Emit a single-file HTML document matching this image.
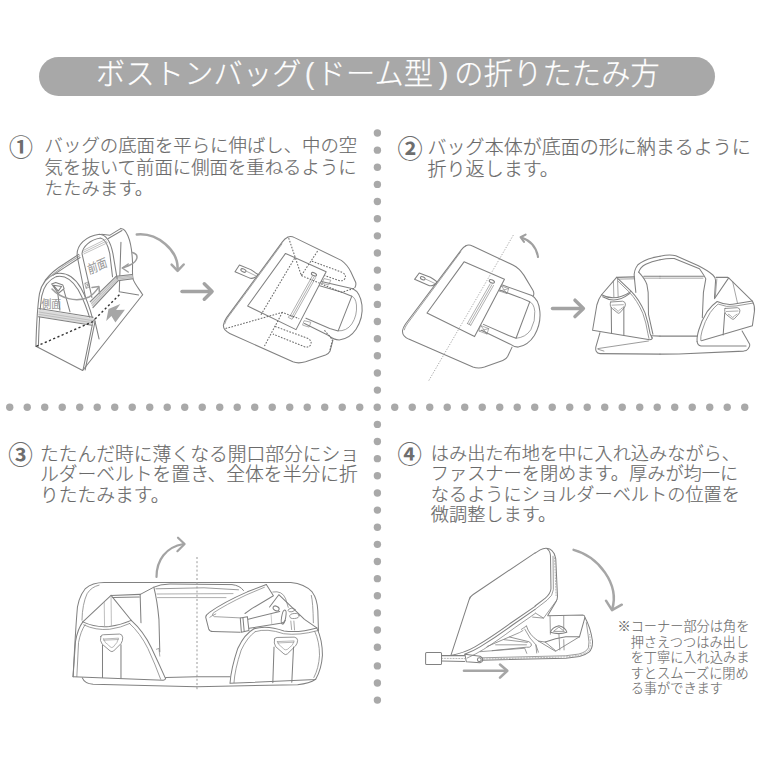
<!DOCTYPE html>
<html lang="ja">
<head>
<meta charset="utf-8">
<title>ボストンバッグ(ドーム型)の折りたたみ方</title>
<style>
html,body{margin:0;padding:0;background:#fff;}
body{width:760px;height:760px;position:relative;overflow:hidden;font-family:"Liberation Sans","Noto Sans CJK JP",sans-serif;}
#bar{position:absolute;left:39px;top:56.6px;width:676px;height:39.8px;border-radius:19.9px;background:#a8a8a8;}
#title{position:absolute;left:96px;top:60.1px;height:29.2px;line-height:29.2px;color:#fff;font-size:29.2px;font-weight:300;letter-spacing:0.2px;white-space:nowrap;-webkit-text-stroke:0.25px #fff;}
#title i{font-style:normal;display:inline-block;width:14.8px;letter-spacing:0;text-indent:3px;opacity:.92;-webkit-text-stroke:0;}
.t{position:absolute;color:#6a6a6a;font-weight:300;white-space:nowrap;-webkit-text-stroke:0.18px #6a6a6a;}
svg{position:absolute;left:0;top:0;}
.n{position:absolute;color:#6e6e6e;font-weight:700;white-space:nowrap;}
</style>
</head>
<body>
<svg id="art" width="760" height="760" viewBox="0 0 760 760">
<g id="dots" fill="#a9a9a9"><circle cx="9.75" cy="407.20" r="3.7"/><circle cx="27.25" cy="407.20" r="3.7"/><circle cx="44.75" cy="407.20" r="3.7"/><circle cx="62.25" cy="407.20" r="3.7"/><circle cx="79.75" cy="407.20" r="3.7"/><circle cx="97.25" cy="407.20" r="3.7"/><circle cx="114.75" cy="407.20" r="3.7"/><circle cx="132.25" cy="407.20" r="3.7"/><circle cx="149.75" cy="407.20" r="3.7"/><circle cx="167.25" cy="407.20" r="3.7"/><circle cx="184.75" cy="407.20" r="3.7"/><circle cx="202.25" cy="407.20" r="3.7"/><circle cx="219.75" cy="407.20" r="3.7"/><circle cx="237.25" cy="407.20" r="3.7"/><circle cx="254.75" cy="407.20" r="3.7"/><circle cx="272.25" cy="407.20" r="3.7"/><circle cx="289.75" cy="407.20" r="3.7"/><circle cx="307.25" cy="407.20" r="3.7"/><circle cx="324.75" cy="407.20" r="3.7"/><circle cx="342.25" cy="407.20" r="3.7"/><circle cx="359.75" cy="407.20" r="3.7"/><circle cx="377.25" cy="407.20" r="3.7"/><circle cx="394.75" cy="407.20" r="3.7"/><circle cx="412.25" cy="407.20" r="3.7"/><circle cx="429.75" cy="407.20" r="3.7"/><circle cx="447.25" cy="407.20" r="3.7"/><circle cx="464.75" cy="407.20" r="3.7"/><circle cx="482.25" cy="407.20" r="3.7"/><circle cx="499.75" cy="407.20" r="3.7"/><circle cx="517.25" cy="407.20" r="3.7"/><circle cx="534.75" cy="407.20" r="3.7"/><circle cx="552.25" cy="407.20" r="3.7"/><circle cx="569.75" cy="407.20" r="3.7"/><circle cx="587.25" cy="407.20" r="3.7"/><circle cx="604.75" cy="407.20" r="3.7"/><circle cx="622.25" cy="407.20" r="3.7"/><circle cx="639.75" cy="407.20" r="3.7"/><circle cx="657.25" cy="407.20" r="3.7"/><circle cx="674.75" cy="407.20" r="3.7"/><circle cx="692.25" cy="407.20" r="3.7"/><circle cx="709.75" cy="407.20" r="3.7"/><circle cx="727.25" cy="407.20" r="3.7"/><circle cx="744.75" cy="407.20" r="3.7"/><circle cx="377.40" cy="133.00" r="3.7"/><circle cx="377.40" cy="150.14" r="3.7"/><circle cx="377.40" cy="167.28" r="3.7"/><circle cx="377.40" cy="184.42" r="3.7"/><circle cx="377.40" cy="201.56" r="3.7"/><circle cx="377.40" cy="218.70" r="3.7"/><circle cx="377.40" cy="235.84" r="3.7"/><circle cx="377.40" cy="252.98" r="3.7"/><circle cx="377.40" cy="270.12" r="3.7"/><circle cx="377.40" cy="287.26" r="3.7"/><circle cx="377.40" cy="304.40" r="3.7"/><circle cx="377.40" cy="321.54" r="3.7"/><circle cx="377.40" cy="338.68" r="3.7"/><circle cx="377.40" cy="355.82" r="3.7"/><circle cx="377.40" cy="372.96" r="3.7"/><circle cx="377.40" cy="390.10" r="3.7"/><circle cx="377.40" cy="424.38" r="3.7"/><circle cx="377.40" cy="441.52" r="3.7"/><circle cx="377.40" cy="458.66" r="3.7"/><circle cx="377.40" cy="475.80" r="3.7"/><circle cx="377.40" cy="492.94" r="3.7"/><circle cx="377.40" cy="510.08" r="3.7"/><circle cx="377.40" cy="527.22" r="3.7"/><circle cx="377.40" cy="544.36" r="3.7"/><circle cx="377.40" cy="561.50" r="3.7"/><circle cx="377.40" cy="578.64" r="3.7"/><circle cx="377.40" cy="595.78" r="3.7"/><circle cx="377.40" cy="612.92" r="3.7"/><circle cx="377.40" cy="630.06" r="3.7"/><circle cx="377.40" cy="647.20" r="3.7"/><circle cx="377.40" cy="665.90" r="3.7"/><circle cx="377.40" cy="683.00" r="3.7"/><circle cx="377.40" cy="700.10" r="3.7"/></g>
<g id="art1"><g fill="none" stroke="#818181" stroke-width="1" stroke-linecap="round" stroke-linejoin="round">
<!-- drawing 1a : bag standing -->
<g transform="translate(30,220) scale(0.210526)" stroke-width="5">
<path d="M28,600 C30,520 34,420 45,350 C55,300 80,270 120,255 C170,245 210,270 240,320 C265,365 285,420 300,478"/>
<path d="M40,598 C42,520 46,425 56,360 C66,312 90,284 124,269 C165,260 198,282 228,330 C253,374 273,427 289,482"/>
<path d="M28,600 L250,715 L535,355"/>
<path d="M300,478 L252,712 M309,482 L262,712"/>
<path d="M306,470 L328,565"/>
<path d="M42,424 L300,466 L296,497 L40,458 Z" fill="#dcdcdc" stroke="none"/><g stroke="#aaa" stroke-width="3"><path d="M42,437 L298,478 M41,448 L297,488"/></g>
<path d="M42,420 L300,462 M40,460 L294,500"/>
<!-- top ridge -->
<path d="M72,286 C100,250 130,228 160,210 L232,163 M340,68 L380,72 L432,40"/>
<path d="M110,262 L165,225 L238,178 M372,88 L437,50"/>
<path d="M92,272 L160,218 L236,170" stroke="#aaa"/>
<!-- right side -->
<path d="M432,42 C445,38 455,52 465,75 C478,105 485,150 487,200 C488,240 484,262 490,282 C498,305 520,330 535,355"/>
<path d="M432,106 L424,341 L516,356"/>
<!-- front band -->
<path d="M286,388 L410,267 L485,259 L489,279 L418,289 L299,416 Z" fill="#dcdcdc" stroke="none"/><g stroke="#aaa" stroke-width="3"><path d="M291,398 L413,274 L486,266 M295,407 L415,281 L488,272"/></g>
<path d="M286,388 L410,267 L485,259 M299,416 L418,289 L489,279"/>
<!-- handle -->
<path d="M265,374 L224,170 C220,120 265,76 330,68 C368,70 384,110 394,160 L414,280"/>
<path d="M294,368 L247,160 C250,125 285,95 335,86 C358,90 370,118 379,160 L392,270"/>
<!-- front top band -->
<g stroke="#aaa" stroke-width="3.4"><path d="M252,145 L360,92 M254,153 L364,100 M256,161 L368,108"/></g>
<!-- ring on side -->
<path d="M103,304 L122,297 L156,309 L162,326 L134,349 Z M112,310 L150,316 L134,338 Z"/>
<path d="M132,349 L142,428 M160,330 L190,436"/>
<!-- small stitch box -->
<path d="M262,300 L278,294 L284,318 L268,324 Z M262,300 L284,318 M278,294 L268,324" stroke-width="3"/>
</g>
<!-- dotted dark -->
<g stroke="#333" stroke-width="1.4" stroke-dasharray="2.2 2.4" stroke-linecap="butt">
<path d="M36.3,346.3 L93,321.6"/>
<path d="M95,319 L120.2,294"/>
</g>
<!-- grey arrows -->
<g stroke="#9c9c9c" stroke-width="1.5">
<path d="M52,289 C60,298 76,303 89,297 C93,295 96,291 98.6,287.4"/>
<path d="M92,287.5 L98.9,286.6 L99.6,293.6"/>
<path d="M132.5,252.5 C139.5,254.5 138,261.5 130,265 C127.5,266.2 125,267 122.8,267.9"/>
<path d="M128.2,264 L122.2,268 L128.2,272"/>
</g>
<polygon points="108.5,309.1 120.3,304.1 116.1,310.1 124.9,309.7 115.4,322.6 111.4,316 106.2,320.9" fill="#a6a6a6" stroke="none"/>
<!-- big curved arrow -->
<g stroke="#a6a6a6" stroke-width="2.5">
<path d="M136.8,234.5 C157,232.4 178.8,250.1 177.6,270"/>
<path d="M171.6,264.6 L177.6,270.8 L183.7,264.5"/>
</g>
<g stroke="#a3a3a3" stroke-width="3.5">
<path d="M182,291.4 L211,291.4"/>
<path d="M204.3,283.8 L212.1,291.4 L204.3,299.2"/>
</g>
</g>
<g font-family="'Liberation Sans','Noto Sans CJK JP',sans-serif" font-weight="300" fill="#8e8e8e" font-size="10.8" stroke="#8e8e8e" stroke-width="0.2">
<text x="0" y="0" font-size="9.8" transform="translate(41.5,307.6) scale(1,1.2)">側面</text>
<text x="0" y="0" font-size="10.2" transform="translate(89.3,274.5) rotate(-24) skewX(-8) scale(1,1.2)">前面</text>
</g>

<!-- drawing 1b : folded flat -->
<g transform="translate(215,225) scale(0.210526)" fill="none" stroke="#818181" stroke-width="5" stroke-linecap="round" stroke-linejoin="round">
<path d="M345,58 Q360,50 378,60 L600,168 Q628,188 645,222 L668,272 Q672,285 664,298"/>
<path d="M560,548 L546,600 Q540,612 525,618 L430,650 Q395,660 370,650 L70,515 Q38,500 40,475 Q42,460 55,440 L320,80 Q332,64 345,58"/>
<path d="M46,470 Q50,455 62,438 L318,90" stroke-width="3.5"/>
<path d="M335,135 L528,222 L385,497 L155,385 Z"/>
<!-- zipper -->
<path d="M462,243 L357,432 M470,247 L365,436 M478,250 L372,440" stroke-width="3"/>
<ellipse cx="470" cy="234" rx="13" ry="7" transform="rotate(25 470 234)" stroke-width="5"/>
<path d="M355,430 L372,438 L366,448 L350,440 Z" stroke-width="3"/>
<!-- tab -->
<path d="M116,190 L95,222 L160,250 Q185,262 205,235 Q185,222 170,212 Z"/>
<ellipse cx="135" cy="216" rx="13" ry="7" transform="rotate(25 135 216)"/>
<path d="M150,220 L195,242" stroke-width="3"/>
<!-- handle -->
<path d="M505,268 L655,303 Q690,320 698,380 Q705,440 670,495 Q640,540 590,546 Q565,546 540,525 L425,468"/>
<path d="M497,288 L600,318 L650,338 L585,503 L545,492 L432,443"/>
<path d="M650,338 Q668,345 672,380 Q676,430 650,470 Q625,505 585,503" stroke-width="3.5"/>
<path d="M520,255 L550,262 L540,285 L510,277 Z M425,455 L455,462 L447,485 L418,476 Z" stroke-width="3"/>
<!-- dashed -->
<g stroke="#6c6c6c" stroke-width="5" stroke-dasharray="8 6.5" stroke-linecap="butt">
<path d="M350,62 L410,240 L490,120"/>
<path d="M410,240 L600,320 L665,300"/>
<path d="M460,172 L605,225 Q628,240 615,258 Q605,270 585,262 L520,240"/>
<path d="M50,492 L320,415 L400,445"/>
<path d="M320,415 L235,575"/>
<path d="M285,482 L440,538 Q462,550 455,568 Q445,585 425,578 L275,518"/>
<path d="M378,158 L215,432"/>
<path d="M520,500 L558,545 L545,600"/>
</g>
</g>
</g>
<g id="art2"><!-- drawing 2a -->
<g transform="translate(395,225) scale(0.210526)" fill="none" stroke="#818181" stroke-width="5" stroke-linecap="round" stroke-linejoin="round">
<path d="M335,100 Q350,90 368,100 L560,190 Q590,205 612,238 L655,310 Q662,322 658,335"/>
<path d="M556,580 L535,625 Q528,638 512,644 L425,675 Q395,684 370,674 L65,542 Q32,526 36,500 Q38,488 50,470 L315,118 Q325,105 335,100"/>
<path d="M44,498 Q47,485 58,470 L312,128" stroke-width="3.5"/>
<path d="M328,175 L520,258 L378,530 L152,418 Z"/>
<path d="M452,280 L344,468 M460,284 L352,472 M468,287 L360,476 M344,468 L360,476" stroke-width="3"/>
<ellipse cx="460" cy="268" rx="13" ry="7" transform="rotate(25 460 268)"/>
<path d="M115,228 L93,258 L158,286 Q180,296 200,270 Q182,256 168,248 Z"/>
<ellipse cx="132" cy="253" rx="12" ry="7" transform="rotate(25 132 253)"/>
<path d="M148,258 L190,278" stroke-width="3"/>
<path d="M510,285 L650,335 Q682,352 688,410 Q694,470 662,525 Q632,572 585,580 Q565,580 545,565 L410,500"/>
<path d="M500,310 L595,345 L640,365 L575,538 L540,525 L420,472"/>
<path d="M640,365 Q660,372 664,410 Q668,455 645,498 Q620,535 575,538" stroke-width="3.5"/>
<path d="M505,290 L540,302 L532,326 L497,314 Z M505,290 L532,326 M540,302 L497,314 M408,478 L445,492 L437,518 L400,504 Z M408,478 L437,518 M445,492 L400,504" stroke-width="3"/>
<path d="M562,48 L160,740" stroke="#999" stroke-width="4" stroke-dasharray="6 7" stroke-linecap="butt"/>
</g>
<g fill="none" stroke="#a0a0a0" stroke-width="2.1" stroke-linecap="round" stroke-linejoin="round">
<path d="M538,257 C536.5,247.5 530,240.5 521.5,237.5"/>
<path d="M524,241.8 L520.6,237.2 L525.6,234.6"/>
</g>
<g fill="none" stroke="#a3a3a3" stroke-width="3.5" stroke-linecap="round" stroke-linejoin="round">
<path d="M552.5,308.4 L582.5,308.4"/>
<path d="M575,300.2 L583.4,308.4 L575,316.6"/>
</g>
<!-- drawing 2b left half -->
<g fill="none" stroke="#818181" stroke-width="1" stroke-linecap="round" stroke-linejoin="round">
<g transform="translate(585,245) scale(0.157895)" stroke-width="6.6">
<path d="M200,205 L105,315 Q85,340 75,380 L48,540 L170,560 L410,600 Q428,600 425,585"/>
<path d="M200,205 L290,290 Q345,345 380,430 Q400,490 412,560 L425,590"/>
<path d="M210,230 L280,298 Q330,350 366,432 Q388,492 398,560 L405,592" stroke-width="5"/>
<path d="M105,315 Q190,362 290,295 M112,328 Q195,376 282,308"/>
<path d="M180,228 L183,332 M206,218 L210,330" stroke-width="4.5"/>
<path d="M163,361 L238,356 Q256,360 256,374 Q256,388 248,398 L220,430 Q212,436 204,428 L172,402 Q160,392 160,380 Q158,365 163,361 Z" stroke-width="5.5"/><path d="M171,381 L243,378 M183,398 Q196,402 200,412 Q210,428 220,412 Q226,402 238,398" stroke-width="4.5" stroke="#8c8c8c"/>
<path d="M166,395 L168,560 M246,392 L246,572"/>
<path d="M95,555 L68,648 Q66,665 72,675 Q78,688 95,688 L475,691"/>
<path d="M82,656 L402,608 M82,660 L120,672" stroke-width="5"/>
<path d="M200,205 L312,202 M372,198 L475,198"/>
<path d="M215,216 L315,214 M372,210 L475,210" stroke-width="4.5"/>
<path d="M312,202 Q308,160 335,125 Q370,95 430,80 L475,71"/>
<path d="M340,172 Q350,140 385,122 Q420,105 475,94"/>
<path d="M312,202 L322,300 M340,172 Q380,215 392,250 L400,300 L402,440"/>
<path d="M402,440 L430,565 M420,575 L475,577"/>
</g>
<g transform="translate(660,245) scale(0.157895)" stroke-width="6.6">
<path d="M0,71 Q60,58 100,68 L240,130 Q300,160 335,190 Q352,205 352,225 L345,335"/>
<path d="M0,94 Q55,82 90,86 L250,150 Q285,200 290,215 L275,300 L268,460"/>
<path d="M0,198 L275,198 M355,205 L430,205"/>
<path d="M0,210 L272,210" stroke-width="4.5"/>
<path d="M0,577 L235,577"/>
<path d="M435,208 L585,355 Q602,385 598,420 L585,512 L262,606"/>
<path d="M435,208 L345,340"/>
<path d="M460,232 L490,365 M360,215 L350,330" stroke-width="4.5"/>
<path d="M235,612 Q232,585 245,540 Q262,480 300,420 Q330,380 362,358 Q420,385 480,372 L585,355"/>
<path d="M258,604 Q256,580 266,545 Q282,485 318,428 Q342,395 368,374 Q420,398 482,386 L588,368" stroke-width="5"/>
<path d="M235,612 Q238,635 260,640 L545,640"/>
<path d="M412,402 L490,397 Q506,400 506,414 Q506,428 498,438 L470,468 Q462,474 454,467 L422,442 Q410,432 410,420 Q408,406 412,402 Z" stroke-width="5.5"/><path d="M420,421 L494,418 M432,438 Q446,442 450,452 Q460,466 470,452 Q476,442 488,438" stroke-width="4.5" stroke="#8c8c8c"/>
<path d="M410,430 L400,570"/>
<path d="M520,545 L568,628 Q572,640 560,655 Q550,670 530,672 L120,690 L0,691"/>
</g>
</g>
</g>
<g id="art3"><!-- drawing 3 -->
<g fill="none" stroke="#818181" stroke-width="1" stroke-linecap="round" stroke-linejoin="round">
<g transform="translate(70,580) scale(0.171053)" stroke-width="6">
<path d="M18,565 Q30,330 40,200 Q42,110 90,50 Q130,15 200,15 L740,15"/>
<path d="M70,235 Q72,140 100,80 Q125,40 170,30" stroke-width="4.5"/>
<path d="M72,572 Q85,605 135,610 L740,624"/>
<path d="M18,565 L545,586 Q558,585 560,572"/>
<path d="M75,245 Q45,285 32,360 L18,565"/>
<path d="M88,262 Q62,300 50,365 L40,565" stroke-width="4.5"/>
<path d="M75,245 Q150,280 230,272 Q300,262 358,236"/>
<path d="M80,262 Q150,296 232,288 Q300,278 350,254" stroke-width="4.5"/>
<path d="M358,236 Q430,300 475,395 Q520,490 558,575"/>
<path d="M346,252 Q412,312 455,400 Q498,492 530,580" stroke-width="4.5"/>
<path d="M240,90 L75,245 M240,90 L360,238"/>
<path d="M200,130 L202,268 M240,100 L242,272" stroke-width="4.5" stroke="#aaa"/>
<path d="M240,90 L410,84 M250,102 L405,100" />
<path d="M410,84 L415,250 M490,42 Q510,120 520,230 L525,420"/>
<path d="M560,570 L740,566"/>
<path d="M180,330 Q182,320 195,320 L290,316 Q305,316 308,335 Q310,355 298,372 L255,415 Q245,422 235,415 L188,375 Q172,355 180,330 Z" stroke-width="5"/>
<path d="M196,345 L284,340 Q275,372 262,380 Q245,410 225,380 Q205,372 196,345 Z M196,352 L282,348" stroke-width="4" stroke="#999"/>
<path d="M190,382 L190,570 M298,378 L298,574"/>
<path d="M505,405 L520,400 L525,445" stroke-width="4"/>
</g>
<g transform="translate(195,580) scale(0.171053)" stroke-width="6">
<path d="M12,15 L560,15 Q640,22 685,70 Q715,110 718,180 L722,300"/>
<path d="M680,90 Q690,130 692,250" stroke-width="4.5"/>
<path d="M12,624 L600,612 Q670,605 705,580"/>
<path d="M12,566 L205,566"/>
<path d="M205,602 Q210,520 250,400 Q290,315 345,285"/>
<path d="M228,600 Q232,525 270,410 Q305,335 352,302" stroke-width="4.5"/>
<path d="M345,285 Q420,262 520,298 Q610,310 712,280"/>
<path d="M352,302 Q420,280 518,314 Q610,326 716,296" stroke-width="4.5"/>
<path d="M712,280 Q745,350 745,440 Q740,520 705,582 L205,604"/>
<path d="M700,300 Q728,360 728,440 Q724,515 695,570" stroke-width="4.5"/>
<path d="M465,345 Q467,336 480,336 L580,334 Q598,336 600,352 Q600,370 588,385 L540,432 Q530,440 520,432 L472,390 Q458,370 465,345 Z" stroke-width="5"/>
<path d="M482,360 L580,356 Q570,388 555,392 Q530,425 508,392 Q490,385 482,360 Z M482,368 L578,364" stroke-width="4" stroke="#999"/>
<path d="M462,392 L455,600 M576,392 L566,598"/>
<!-- shoulder belt -->
<g transform="translate(29.23,0) scale(0.92308)" stroke-width="6.4">
<path d="M420,28 L300,75 Q150,140 60,205 Q38,220 36,235 L55,310 Q62,326 80,326 L255,331"/>
<path d="M420,28 L465,100 L330,180 L285,212"/>
<path d="M408,46 L292,95 Q160,158 85,208 Q70,222 90,232 L255,240" stroke-width="4.6"/>
<path d="M62,236 Q70,228 100,215" stroke-width="4.6"/>
<path d="M255,240 L300,232 L310,320 L262,331 Z M272,240 L280,326"/>
<path d="M306,248 L505,200 M312,306 L520,272 Q535,268 540,255"/>
<path d="M450,216 L455,282" stroke-width="4" stroke="#aaa"/>
<ellipse cx="482" cy="180" rx="20" ry="14" transform="rotate(25 482 180)"/>
<ellipse cx="530" cy="235" rx="13" ry="45" transform="rotate(10 530 235)"/>
<ellipse cx="580" cy="190" rx="22" ry="11" transform="rotate(-10 580 190)" stroke-width="5"/>
<ellipse cx="598" cy="228" rx="30" ry="16" transform="rotate(-5 598 228)" stroke-width="5"/>
</g>
<path d="M490,86 L436,158 M490,86 L640,230 L712,280"/>
<path d="M455,70 Q510,60 530,110 L545,160" stroke-width="4.5"/>
<path d="M560,240 L565,290 M578,240 L582,292" stroke-width="4"/>
</g>
<path d="M140.1,594.5 L153.8,587.2 Q160,584.2 170,584 L232,584.6 Q240,585.5 243.5,590.5"/>
<path d="M156,588.8 L204,587.8 L238.5,589.8" stroke-width="0.8"/>
<path d="M157,594 L233,593.6 M157.5,597.6 L226,597.6" stroke="#999" stroke-width="0.8"/>
<path d="M197,557 L197,691" stroke="#999" stroke-width="1" stroke-dasharray="2 2.2" stroke-linecap="butt"/>
</g>
<g fill="none" stroke="#a3a3a3" stroke-width="2.2" stroke-linecap="round" stroke-linejoin="round">
<path d="M156.5,577 C156.5,560 166,547 183.5,544"/>
<path d="M178,537.7 L184.6,544 L177.4,551.2"/>
</g>
</g>
<g id="art4"><!-- drawing 4 -->
<g fill="none" stroke="#818181" stroke-width="1" stroke-linecap="round" stroke-linejoin="round">
<g transform="translate(415,540) scale(0.171053)" stroke-width="6">
<rect x="62" y="658" width="93" height="70" rx="6"/>
<path d="M155,676 L290,676 M155,708 L290,710"/>
<path d="M160,692 L290,693" stroke-width="5" stroke-dasharray="4 5" stroke-linecap="butt"/>
<path d="M292,668 L380,680 Q398,690 396,702 Q394,716 380,718 L300,712 Z"/>
<circle cx="376" cy="700" r="11"/>
<!-- lid -->
<path d="M210,675 L316,350 Q322,330 338,320 L702,75"/>
<path d="M210,675 Q290,660 350,625 Q450,565 560,485 L702,388"/>
<path d="M290,668 Q340,650 380,625 Q470,570 570,497 L702,406" />
<path d="M305,690 Q360,665 400,640 Q480,590 580,515 L702,430" stroke-width="4.5"/>
</g>
<g transform="translate(500,540) scale(0.171053)" stroke-width="6">
<path d="M205,77 L235,58 Q262,42 290,52 Q320,70 326,110 L336,330 Q336,345 328,360 L280,440"/>
<path d="M205,386 L265,340 Q296,312 298,285 L295,90 Q292,62 275,50"/>
<path d="M205,406 L275,352 Q310,325 312,290 L310,95" stroke-width="4.5"/>
<path d="M318,80 L328,330" stroke-width="5" stroke-dasharray="4 5" stroke-linecap="butt"/>
</g>
<g transform="translate(470,600) scale(0.171053)" stroke-width="6">
<!-- lid corner fold -->
<path d="M366,100 L430,106 L508,0 M382,76 L430,106" stroke-width="4.5"/>
<!-- tray back wall -->
<path d="M455,92 L660,88 Q672,90 672,102 L640,215"/>
<path d="M468,95 L470,200 M548,92 L548,172" stroke-width="4.5"/>
<path d="M470,188 Q480,160 520,150 Q558,160 566,188 Q520,205 470,188 Z"/>
<path d="M490,182 L520,158 L550,182 Z" stroke-width="4.5"/>
<path d="M440,246 Q500,222 560,215 L640,215"/>
<path d="M520,202 L525,292 M548,232 L550,292" stroke-width="4.5"/>
<path d="M330,152 Q345,205 400,240 L440,246 M400,240 L500,300 L640,215 M440,246 L500,296" stroke-width="5"/>
<path d="M330,152 L300,172 M320,170 Q350,230 385,262 L400,305 M385,262 L390,310" stroke-width="4.5"/>
<!-- fan -->
<path d="M100,272 L230,216 L345,244 Q365,255 358,268 Q350,280 330,276 L130,296" stroke-width="5"/>
<path d="M200,232 L335,248 M60,302 L320,282 L332,312 M230,216 L290,190 L310,178 M150,262 L330,262" stroke-width="4.5"/>
<!-- tray right wall + bottom zipper -->
<path d="M672,102 Q705,160 716,240 Q718,285 695,305 Q670,325 640,330 L560,340 L70,352"/>
<path d="M70,338 L560,326 L635,316 Q680,305 692,280 Q700,250 690,200 L680,132" stroke-width="4.5"/>
<path d="M75,345 L560,333 L638,323 Q685,312 700,285 Q708,250 698,195" stroke-width="5" stroke-dasharray="4 5" stroke-linecap="butt"/>
</g>
</g>
<g fill="none" stroke="#a6a6a6" stroke-width="2.5" stroke-linecap="round" stroke-linejoin="round">
<path d="M573.6,549.9 C598.4,556.5 619.7,584.2 612.2,609.2"/>
<path d="M606,600.7 L612,610.1 L621.8,604.7"/>
<path d="M464,670.8 L506.3,670.8" stroke-width="2.6"/>
<path d="M500,664.6 L507.3,670.8 L500,677.6" stroke-width="2.6"/>
</g>
</g>
</svg>
<div id="bar"></div>
<div id="title">ボストンバッグ<i>(</i>ドーム型<i style="width:21.1px;text-indent:5.5px">)</i>の折りたたみ方</div>

<div class="n" style="left:8.9px;top:136.2px;font-size:23.9px;line-height:23.9px;">①</div>
<div class="t" style="left:44.6px;top:135.3px;font-size:18.4px;line-height:21.3px;">バッグの底面を平らに伸ばし、中の空<br>気を抜いて前面に側面を重ねるように<br>たたみます。</div>

<div class="n" style="left:397.4px;top:136.5px;font-size:25.1px;line-height:25.1px;">②</div>
<div class="t" style="left:427.6px;top:136.9px;font-size:19.03px;line-height:22.3px;">バッグ本体が底面の形に納まるように<br>折り返します。</div>

<div class="n" style="left:8.2px;top:444px;font-size:24.5px;line-height:24.5px;">③</div>
<div class="t" style="left:40px;top:444.5px;font-size:18.77px;line-height:20.7px;">たたんだ時に薄くなる開口部分にショ<br>ルダーベルトを置き、全体を半分に折<br>りたたみます。</div>

<div class="n" style="left:397.4px;top:442.5px;font-size:24.3px;line-height:24.3px;">④</div>
<div class="t" style="left:430.8px;top:443.6px;font-size:18.2px;line-height:20.6px;">はみ出た布地を中に入れ込みながら、<br>ファスナーを閉めます。厚みが均一に<br>なるようにショルダーベルトの位置を<br>微調整します。</div>

<div class="t" style="left:617.5px;top:619.4px;font-size:13.2px;line-height:15.5px;-webkit-text-stroke:0.1px #6a6a6a;padding-left:13.2px;text-indent:-13.2px;">※コーナー部分は角を<br>押さえつつはみ出し<br>を丁寧に入れ込みま<br>すとスムーズに閉め<br>る事ができます</div>
</body>
</html>
